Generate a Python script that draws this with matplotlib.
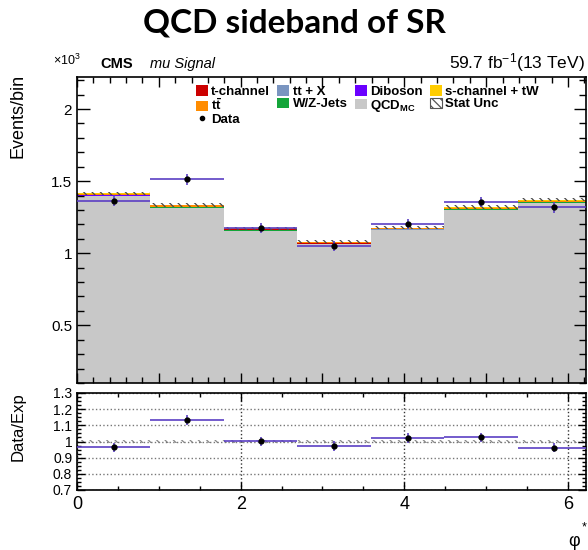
import numpy as np
import matplotlib
matplotlib.use("Agg")
import matplotlib.pyplot as plt
from matplotlib.ticker import MultipleLocator, FuncFormatter
from matplotlib.patches import Patch
from matplotlib.lines import Line2D

plt.rcParams['font.family'] = ['Liberation Sans', 'DejaVu Sans']
plt.rcParams['mathtext.fontset'] = 'custom'
plt.rcParams['mathtext.rm'] = 'Liberation Sans'
plt.rcParams['mathtext.bf'] = 'Liberation Sans:bold'
plt.rcParams['mathtext.it'] = 'Liberation Sans:italic'

# ---------------- data ----------------
n_bins = 7
edges = np.linspace(0, 2 * np.pi, n_bins + 1)
qcd_mc      = [1397, 1316, 1154, 1061, 1160, 1301, 1351]
wz_jets     = [3, 3, 4, 3, 3, 3, 3]
diboson     = [0.5, 0.5, 0.5, 0.5, 0.5, 0.5, 0.5]
ttx         = [1, 1, 1, 1, 1, 1, 1]
t_channel   = [3, 3, 8, 3, 3, 3, 3]
ttbar       = [9.5, 9.5, 4.5, 9.5, 9.5, 6.5, 6.5]
s_channel   = [1, 1, 1, 1, 1, 5, 5]
stat_unc    = [11, 11, 10, 10, 10, 11, 11]
data        = [1364, 1512, 1175, 1051, 1202, 1354, 1318]

components = [
    ("QCD$_{\\mathbf{MC}}$", qcd_mc, "#c8c8c8"),
    ("W/Z-Jets", wz_jets, "#14a53a"),
    ("Diboson", diboson, "#6a00ff"),
    ("tt + X", ttx, "#7a95c0"),
    ("t-channel", t_channel, "#cc0000"),
    ("$\\mathbf{t\\bar{t}}$", ttbar, "#ff8c00"),
    ("s-channel + tW", s_channel, "#ffcc00"),
]

data = np.array(data, dtype=float)
centers = 0.5 * (edges[:-1] + edges[1:])
half_w = 0.5 * (edges[1:] - edges[:-1])

fig = plt.figure(figsize=(5.88, 5.5), dpi=100)
W, H = 588, 550
def rect(l, t, r, b):
    return [l / W, 1 - b / H, (r - l) / W, (b - t) / H]

ax = fig.add_axes(rect(77, 77, 586, 383))
rax = fig.add_axes(rect(77, 393, 586, 490))

# stacked histogram
bottom = np.zeros(n_bins)
handles = {}
for name, vals, col in components:
    vals = np.array(vals, dtype=float)
    ax.stairs(bottom + vals, edges, baseline=bottom, fill=True, color=col, lw=0)
    handles[name] = Patch(facecolor=col, edgecolor='none')
    bottom = bottom + vals
total = bottom
unc = np.array(stat_unc, dtype=float)

plt.rcParams['hatch.linewidth'] = 0.9
ax.stairs(total + unc, edges, baseline=total - unc, fill=True, facecolor='none',
          edgecolor='#4a4a4a', hatch='\\\\\\\\', lw=0)

purple = '#5b3fc4'
ax.errorbar(centers, data, xerr=half_w, yerr=np.sqrt(data), fmt='o', color='black',
            ms=3.5, ecolor=purple, elinewidth=1.2, capsize=0, zorder=5)

ax.set_xlim(0, 6.22)
ax.set_ylim(100, 2222)
ax.yaxis.set_major_locator(MultipleLocator(500))
ax.yaxis.set_minor_locator(MultipleLocator(100))
ax.yaxis.set_major_formatter(FuncFormatter(lambda v, p: "%g" % (v / 1000.0)))
ax.xaxis.set_major_locator(MultipleLocator(1))
ax.xaxis.set_minor_locator(MultipleLocator(0.2))
ax.tick_params(axis='both', which='both', direction='in', top=True, right=True,
               labelbottom=False, labelsize=11, width=1)
ax.tick_params(axis='y', which='major', length=9)
ax.tick_params(axis='y', which='minor', length=5)
ax.tick_params(axis='x', which='major', length=7)
ax.tick_params(axis='x', which='minor', length=4)
for s in ax.spines.values():
    s.set_linewidth(1.2)

# legend
stat_handle = Patch(facecolor='white', edgecolor='#555555', hatch='\\\\\\\\', lw=0.8)
data_handle = Line2D([], [], marker='o', color='black', ls='none', ms=3)
order = [("t-channel", handles["t-channel"]),
         ("$\\mathbf{t\\bar{t}}$", handles["$\\mathbf{t\\bar{t}}$"]),
         ("Data", data_handle),
         ("tt + X", handles["tt + X"]),
         ("W/Z-Jets", handles["W/Z-Jets"]),
         ("Diboson", handles["Diboson"]),
         ("QCD$_{\\mathbf{MC}}$", handles["QCD$_{\\mathbf{MC}}$"]),
         ("s-channel + tW", handles["s-channel + tW"]),
         ("Stat Unc", stat_handle)]
leg = ax.legend([h for _, h in order], [l for l, _ in order], ncol=4,
                loc='upper left', bbox_to_anchor=((196 - 77) / 509, 1 - 8 / 306),
                frameon=False, prop={'weight': 'bold', 'size': 9.5},
                handlelength=0.9, handleheight=0.85, handletextpad=0.25,
                columnspacing=0.55, labelspacing=-0.02, borderaxespad=0.0,
                borderpad=0.0)

# ratio panel
ratio = data / total
rerr = np.sqrt(data) / total
runc = unc / total
rax.stairs(1 + runc, edges, baseline=1 - runc, fill=True, facecolor='none',
           edgecolor='#888888', hatch='\\\\\\\\', lw=0)
rax.errorbar(centers, ratio, xerr=half_w, yerr=rerr, fmt='o', color='black',
             ms=3.5, ecolor=purple, elinewidth=1.2, capsize=0, zorder=5)
rax.set_xlim(0, 6.22)
rax.set_ylim(0.7, 1.3)
rax.yaxis.set_major_locator(MultipleLocator(0.1))
rax.yaxis.set_minor_locator(MultipleLocator(0.025))
rax.yaxis.set_major_formatter(FuncFormatter(lambda v, p: "%g" % round(v, 2)))
rax.xaxis.set_major_locator(MultipleLocator(2))
rax.xaxis.set_minor_locator(MultipleLocator(0.5))
rax.tick_params(axis='both', which='both', direction='in', top=True, right=True, width=1)
rax.tick_params(axis='y', which='major', length=6, labelsize=10)
rax.tick_params(axis='y', which='minor', length=3)
rax.tick_params(axis='x', which='major', length=6, labelsize=13, pad=4)
rax.tick_params(axis='x', which='minor', length=3)
rax.grid(True, which='major', axis='y', ls=':', color='#777777', lw=1)
rax.grid(True, which='major', axis='x', ls=':', color='#333333', lw=1)
for s in rax.spines.values():
    s.set_linewidth(1.2)

# texts
fig.text(0.5, 1 - 23 / H, "QCD sideband of SR", ha='center', va='center',
         fontsize=24, fontweight='bold', family=['Lato', 'DejaVu Sans'])
fig.text(53 / W, 1 - 65 / H, "×10$^{3}$", ha='left', va='baseline', fontsize=9)
fig.text(100 / W, 1 - 68 / H, "CMS", ha='left', va='baseline', fontsize=10.5,
         fontweight='bold')
fig.text(150 / W, 1 - 68 / H, "mu Signal", ha='left', va='baseline', fontsize=10.5,
         style='italic')
fig.text(585 / W, 1 - 68 / H, "59.7 fb$^{-1}$(13 TeV)", ha='right', va='baseline',
         fontsize=12.5)
fig.text(18 / W, 1 - 74 / H, "Events/bin", rotation=90, ha='center', va='top',
         fontsize=13)
fig.text(18 / W, 1 - 392 / H, "Data/Exp", rotation=90, ha='center', va='top',
         fontsize=12)
fig.text(574 / W, 1 - 546 / H, "φ", ha='center', va='baseline', fontsize=13)
fig.text(584 / W, 1 - 530 / H, "*", ha='center', va='baseline', fontsize=9)

fig.savefig("out.png", dpi=100)
